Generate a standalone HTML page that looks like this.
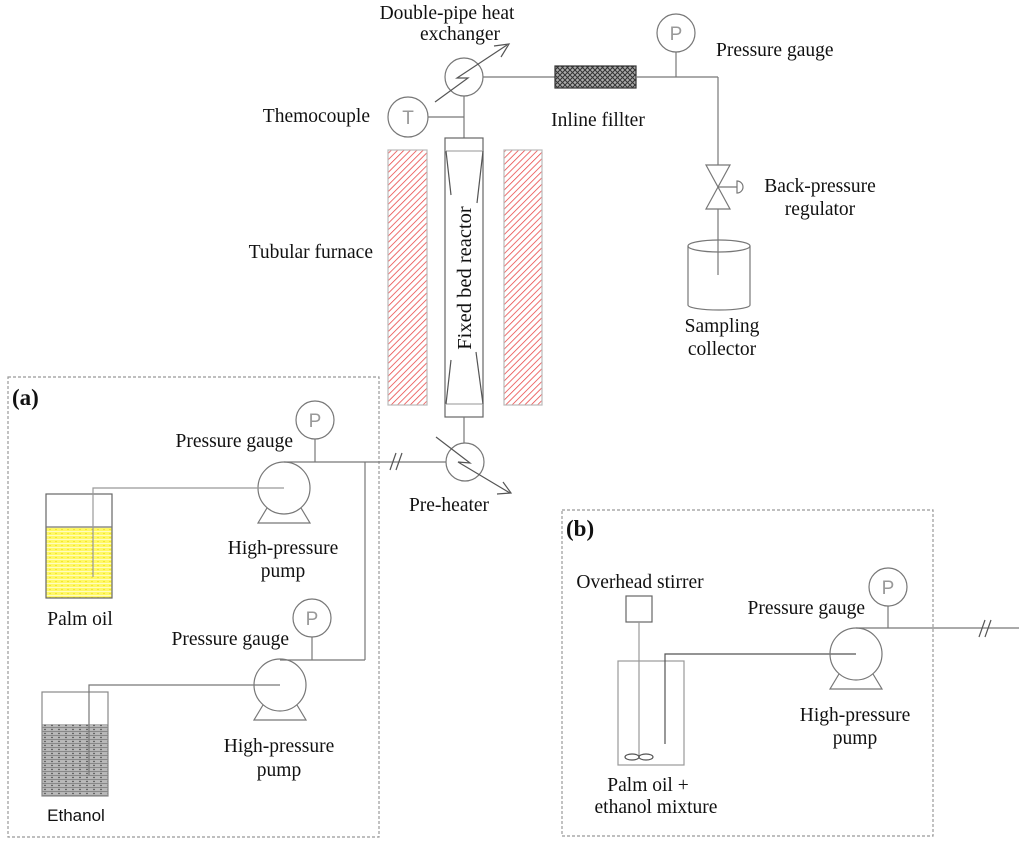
<!DOCTYPE html>
<html><head><meta charset="utf-8"><style>
html,body{margin:0;padding:0;background:#fff;}
svg{display:block;}
text{font-family:"Liberation Serif",serif;font-size:19.5px;fill:#111;}
</style></head><body>
<svg width="1024" height="843" viewBox="0 0 1024 843" xmlns="http://www.w3.org/2000/svg">
<defs>
<pattern id="hatch" width="4.5" height="4.5" patternUnits="userSpaceOnUse" patternTransform="rotate(45)">
<rect width="4.5" height="4.5" fill="#fff"/>
<line x1="0" y1="0" x2="0" y2="4.5" stroke="#e84040" stroke-width="1.5"/>
</pattern>
<pattern id="yel" width="6" height="4" patternUnits="userSpaceOnUse">
<rect width="6" height="4" fill="#fff866"/>
<line x1="0" y1="3.5" x2="6" y2="3.5" stroke="#fffcc0" stroke-width="1"/>
<circle cx="2" cy="1.5" r="0.6" fill="#e6d800"/>
</pattern>
<pattern id="gry" width="7" height="4" patternUnits="userSpaceOnUse">
<rect width="7" height="4" fill="#b8b8b8"/>
<line x1="0" y1="3.5" x2="7" y2="3.5" stroke="#888" stroke-width="1"/>
<circle cx="3" cy="1.5" r="0.7" fill="#333"/>
</pattern>
<pattern id="mesh" width="5" height="5" patternUnits="userSpaceOnUse">
<rect width="5" height="5" fill="#aaa"/>
<path d="M0,0 L5,5 M5,0 L0,5" stroke="#333" stroke-width="1"/>
</pattern>
</defs>
<g fill="none" stroke="#777" stroke-width="1.2">
<rect x="8" y="377" width="371" height="460" stroke="#999" stroke-dasharray="3,2"/>
<rect x="562" y="510" width="371" height="326" stroke="#999" stroke-dasharray="3,2"/>

<circle cx="464" cy="77" r="19"/>
<polyline points="435,102 468,78 457,78 507,45" stroke="#555"/>
<polyline points="494,46 509,44 501,57" stroke="#555"/>
<line x1="483" y1="77" x2="555" y2="77"/>
<rect x="555" y="66" width="81" height="22" fill="url(#mesh)" stroke="#333"/>
<line x1="636" y1="77" x2="718" y2="77"/>
<circle cx="676" cy="33" r="19"/>
<line x1="676" y1="52" x2="676" y2="77"/>
<line x1="718" y1="77" x2="718" y2="165"/>
<polygon points="706,165 730,165 718,187" />
<polygon points="718,187 706,209 730,209"/>
<line x1="718" y1="187" x2="737" y2="187"/>
<path d="M737,181 A6,6 0 0 1 737,193 Z"/>
<line x1="718" y1="209" x2="718" y2="275"/>
<ellipse cx="719" cy="246" rx="31" ry="6"/>
<path d="M688,246 V305 A31,5 0 0 0 750,305 V246"/>

<circle cx="408" cy="117" r="20"/>
<line x1="428" y1="117" x2="464" y2="117"/>
<line x1="464" y1="96" x2="464" y2="138"/>

<rect x="388" y="150" width="39" height="255" fill="url(#hatch)" stroke="#bbb"/>
<rect x="504" y="150" width="38" height="255" fill="url(#hatch)" stroke="#bbb"/>

<rect x="445" y="138" width="38" height="279" stroke="#666"/>
<line x1="445" y1="151" x2="483" y2="151" stroke="#aaa"/>
<line x1="445" y1="404" x2="483" y2="404" stroke="#aaa"/>
<line x1="446" y1="151" x2="451" y2="195" stroke="#555"/>
<line x1="483" y1="151" x2="477" y2="203" stroke="#555"/>
<line x1="451" y1="360" x2="446" y2="404" stroke="#555"/>
<line x1="476" y1="352" x2="483" y2="404" stroke="#555"/>
<line x1="464" y1="417" x2="464" y2="443"/>

<circle cx="465" cy="462" r="19"/>
<polyline points="436,437 470,463 458,462 510,493" stroke="#555"/>
<polyline points="503,482 511,493 497,494" stroke="#555"/>
<line x1="284" y1="462" x2="446" y2="462"/>
<line x1="390" y1="470" x2="396" y2="453" stroke="#555"/>
<line x1="396" y1="470" x2="402" y2="453" stroke="#555"/>

<circle cx="284" cy="488" r="26"/>
<path d="M267,508 L258,523 H310 L301,508"/>
<circle cx="315" cy="420" r="19"/>
<line x1="315" y1="439" x2="315" y2="462"/>
<line x1="365" y1="462" x2="365" y2="660"/>
<circle cx="280" cy="685" r="26"/>
<path d="M263,705 L254,720 H306 L297,705"/>
<circle cx="312" cy="618" r="19"/>
<line x1="312" y1="637" x2="312" y2="660"/>
<line x1="280" y1="660" x2="365" y2="660"/>

<rect x="46" y="527" width="66" height="71" fill="url(#yel)" stroke="none"/>
<rect x="46" y="494" width="66" height="104" stroke="#666"/>
<line x1="46" y1="527" x2="112" y2="527" stroke="#777"/>
<polyline points="284,488 93,488 93,577" stroke="#999"/>
<rect x="42" y="724" width="66" height="72" fill="url(#gry)" stroke="none"/>
<rect x="42" y="692" width="66" height="104" stroke="#888"/>
<polyline points="280,685 89,685 89,775" stroke="#777"/>

<rect x="626" y="596" width="26" height="26" stroke="#666"/>
<line x1="639" y1="622" x2="639" y2="757" stroke="#999"/>
<rect x="618" y="661" width="66" height="104" stroke="#999"/>
<ellipse cx="632" cy="757" rx="7" ry="3" stroke="#555"/>
<ellipse cx="646" cy="757" rx="7" ry="3" stroke="#555"/>
<polyline points="665,744 665,654 856,654" stroke="#555"/>
<circle cx="856" cy="654" r="26"/>
<path d="M839,674 L830,689 H882 L873,674"/>
<circle cx="888" cy="587" r="19"/>
<line x1="888" y1="606" x2="888" y2="628"/>
<line x1="856" y1="628" x2="1019" y2="628"/>
<line x1="979" y1="637" x2="985" y2="620" stroke="#555"/>
<line x1="985" y1="637" x2="991" y2="620" stroke="#555"/>
</g>

<g text-anchor="middle">
<text x="676" y="40" style="font-family:'Liberation Sans',sans-serif;fill:#999;font-size:19px">P</text>
<text x="408" y="124" style="font-family:'Liberation Sans',sans-serif;fill:#999;font-size:19px">T</text>
<text x="315" y="427" style="font-family:'Liberation Sans',sans-serif;fill:#999;font-size:19px">P</text>
<text x="312" y="625" style="font-family:'Liberation Sans',sans-serif;fill:#999;font-size:19px">P</text>
<text x="888" y="594" style="font-family:'Liberation Sans',sans-serif;fill:#999;font-size:19px">P</text>
</g>

<text x="447" y="19" text-anchor="middle">Double-pipe heat</text>
<text x="460" y="40" text-anchor="middle">exchanger</text>
<text x="716" y="56">Pressure gauge</text>
<text x="370" y="122" text-anchor="end">Themocouple</text>
<text x="598" y="126" text-anchor="middle">Inline fillter</text>
<text x="820" y="192" text-anchor="middle">Back-pressure</text>
<text x="820" y="215" text-anchor="middle">regulator</text>
<text x="373" y="258" text-anchor="end">Tubular furnace</text>
<text x="722" y="332" text-anchor="middle">Sampling</text>
<text x="722" y="355" text-anchor="middle">collector</text>
<text transform="translate(471,278) rotate(-90)" text-anchor="middle" style="font-size:20.5px">Fixed bed reactor</text>
<text x="449" y="511" text-anchor="middle">Pre-heater</text>

<text x="12" y="405" style="font-weight:bold;font-size:23px">(a)</text>
<text x="293" y="447" text-anchor="end">Pressure gauge</text>
<text x="283" y="554" text-anchor="middle">High-pressure</text>
<text x="283" y="577" text-anchor="middle">pump</text>
<text x="80" y="625" text-anchor="middle">Palm oil</text>
<text x="289" y="645" text-anchor="end">Pressure gauge</text>
<text x="279" y="752" text-anchor="middle">High-pressure</text>
<text x="279" y="776" text-anchor="middle">pump</text>
<text x="76" y="821" text-anchor="middle" style="font-family:'Liberation Sans',sans-serif;font-size:17px">Ethanol</text>

<text x="566" y="536" style="font-weight:bold;font-size:23px">(b)</text>
<text x="640" y="588" text-anchor="middle">Overhead stirrer</text>
<text x="865" y="614" text-anchor="end">Pressure gauge</text>
<text x="855" y="721" text-anchor="middle">High-pressure</text>
<text x="855" y="744" text-anchor="middle">pump</text>
<text x="648" y="791" text-anchor="middle">Palm oil +</text>
<text x="656" y="813" text-anchor="middle">ethanol mixture</text>
</svg>
</body></html>
